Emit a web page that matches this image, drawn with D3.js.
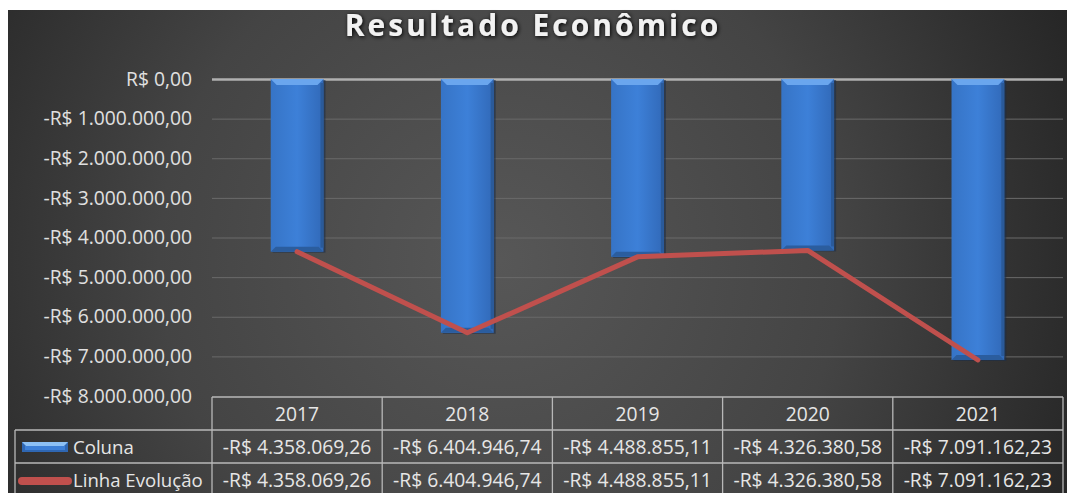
<!DOCTYPE html>
<html>
<head>
<meta charset="utf-8">
<script src="https://cdn.jsdelivr.net/npm/d3@7"></script>
<style>
  html, body { margin: 0; padding: 0; background: #fff; }
  svg { display: block; font-family: 'Open Sans', Lato, sans-serif; }
</style>
</head>
<body>
<div id="chart"></div>
<script>
// data
const years = ['2017', '2018', '2019', '2020', '2021']
const coluna = [-4358069.26, -6404946.74, -4488855.11, -4326380.58, -7091162.23]
const linhaEvolucao = [-4358069.26, -6404946.74, -4488855.11, -4326380.58, -7091162.23]
const yTicks = [0, -1000000, -2000000, -3000000, -4000000, -5000000, -6000000, -7000000, -8000000]
const seriesNames = ['Coluna', 'Linha Evolução']

const W = 1067
const H = 493
const FONT = 19.3

const locale = d3.formatLocale({
  decimal: ',',
  thousands: '.',
  grouping: [3],
  currency: ['R$ ', ''],
  minus: '-'
})
const brl = locale.format('$,.2f')

const svg = d3.select('#chart').append('svg')
  .attr('width', W)
  .attr('height', H)

const defs = svg.append('defs')

// background
const bg = defs.append('radialGradient')
  .attr('id', 'bg')
  .attr('gradientUnits', 'userSpaceOnUse')
  .attr('cx', 500).attr('cy', 260).attr('r', 620)
bg.append('stop').attr('offset', '0%').attr('stop-color', '#575757')
bg.append('stop').attr('offset', '55%').attr('stop-color', '#444')
bg.append('stop').attr('offset', '100%').attr('stop-color', '#262626')

const barGrad = defs.append('linearGradient')
  .attr('id', 'barGrad')
  .attr('x1', 0).attr('x2', 1).attr('y1', 0).attr('y2', 0)
barGrad.append('stop').attr('offset', '0%').attr('stop-color', '#3674c6')
barGrad.append('stop').attr('offset', '50%').attr('stop-color', '#3d80d8')
barGrad.append('stop').attr('offset', '100%').attr('stop-color', '#3169b8')

const shadow = defs.append('filter').attr('id', 'glow')
  .attr('x', '-10%').attr('y', '-30%').attr('width', '120%').attr('height', '160%')
shadow.append('feGaussianBlur').attr('in', 'SourceAlpha').attr('stdDeviation', 2).attr('result', 'b')
shadow.append('feOffset').attr('in', 'b').attr('dx', 1).attr('dy', 1).attr('result', 'o')
const fm = shadow.append('feMerge')
fm.append('feMergeNode').attr('in', 'o')
fm.append('feMergeNode').attr('in', 'SourceGraphic')

svg.append('rect')
  .attr('x', 8).attr('y', 10)
  .attr('width', W - 8).attr('height', H - 10)
  .attr('fill', 'url(#bg)')

// title
svg.append('text')
  .attr('x', 533).attr('y', 36)
  .attr('text-anchor', 'middle')
  .attr('fill', '#f2f2f2')
  .attr('font-size', 30)
  .attr('font-weight', 'bold')
  .attr('letter-spacing', 3)
  .attr('filter', 'url(#glow)')
  .text('Resultado Econômico')

// scales
const xs = d3.scaleBand().domain(years).range([212, 1063]).padding(0)
const ys = d3.scaleLinear().domain([-8000000, 0]).range([396, 79])
const plotW = xs.range()[1] - xs.range()[0]
const barW = xs.bandwidth() * 0.31

// grid + y axis
const yAxis = svg.append('g')
  .attr('transform', `translate(${xs.range()[0]},0)`)
  .call(d3.axisLeft(ys).tickValues(yTicks).tickFormat(brl).tickSize(-plotW).tickPadding(20))
yAxis.select('.domain').remove()
yAxis.selectAll('.tick line')
  .attr('stroke', d => d === 0 ? '#b0b0b0' : '#6a6a6a')
  .attr('stroke-width', d => d === 0 ? 2.5 : 1)
  .style('display', d => d === -8000000 ? 'none' : null)
yAxis.selectAll('.tick text')
  .attr('fill', '#e0e0e0')
  .attr('font-size', FONT)
  .attr('font-family', "'Open Sans', sans-serif")

// bars
const bars = svg.append('g').selectAll('g.bar')
  .data(years.map((y, i) => ({year: y, value: coluna[i]})))
  .join('g').classed('bar', true)
bars.append('rect')
  .attr('x', d => xs(d.year) + (xs.bandwidth() - barW) / 2 + 2)
  .attr('y', ys(0) + 1)
  .attr('width', barW)
  .attr('height', d => ys(d.value) - ys(0))
  .attr('fill', '#1c2f4a')
  .attr('opacity', 0.6)
bars.append('rect')
  .attr('x', d => xs(d.year) + (xs.bandwidth() - barW) / 2)
  .attr('y', ys(0))
  .attr('width', barW)
  .attr('height', d => ys(d.value) - ys(0))
  .attr('fill', 'url(#barGrad)')
// top bevel
bars.append('path')
  .attr('d', d => {
    const x0 = xs(d.year) + (xs.bandwidth() - barW) / 2
    const y0 = ys(0)
    return `M${x0},${y0}H${x0 + barW}L${x0 + barW - 6},${y0 + 6}H${x0 + 6}Z`
  })
  .attr('fill', '#6aa6ee')
// bottom bevel
bars.append('path')
  .attr('d', d => {
    const x0 = xs(d.year) + (xs.bandwidth() - barW) / 2
    const y1 = ys(d.value)
    return `M${x0},${y1}H${x0 + barW}L${x0 + barW - 5},${y1 - 5}H${x0 + 5}Z`
  })
  .attr('fill', '#2b5d9e')
// side shade
bars.append('rect')
  .attr('x', d => xs(d.year) + (xs.bandwidth() + barW) / 2 - 3)
  .attr('y', ys(0) + 4)
  .attr('width', 3)
  .attr('height', d => ys(d.value) - ys(0) - 8)
  .attr('fill', '#2a5a9a')

// line
const line = d3.line()
  .x((d, i) => xs(years[i]) + xs.bandwidth() / 2)
  .y(d => ys(d))
svg.append('path')
  .datum(linhaEvolucao)
  .attr('d', line)
  .attr('fill', 'none')
  .attr('stroke', '#c0504d')
  .attr('stroke-width', 5)
  .attr('stroke-linejoin', 'round')
  .attr('stroke-linecap', 'round')

// data table
const tTop = 397
const rowH = 33
const tLeft = 15
const gridC = '#b8b8b8'
const table = svg.append('g')
const x0 = xs.range()[0]
const x1 = xs.range()[1]

// horizontal lines
table.append('line').attr('x1', x0).attr('x2', x1).attr('y1', tTop).attr('y2', tTop)
table.append('line').attr('x1', tLeft).attr('x2', x1).attr('y1', tTop + rowH).attr('y2', tTop + rowH)
table.append('line').attr('x1', tLeft).attr('x2', x1).attr('y1', tTop + 2 * rowH).attr('y2', tTop + 2 * rowH)
// vertical lines
table.append('line').attr('x1', tLeft).attr('x2', tLeft).attr('y1', tTop + rowH).attr('y2', H)
table.selectAll('line.v')
  .data(years.concat(['end']))
  .join('line').classed('v', true)
  .attr('x1', (d, i) => i < years.length ? xs(d) : x1)
  .attr('x2', (d, i) => i < years.length ? xs(d) : x1)
  .attr('y1', tTop).attr('y2', H)
table.selectAll('line')
  .attr('stroke', gridC)
  .attr('stroke-width', 1.3)

const cellText = (sel) => sel
  .attr('fill', '#e6e6e6')
  .attr('font-size', FONT)
  .attr('text-anchor', 'middle')

table.selectAll('text.year')
  .data(years)
  .join('text').classed('year', true)
  .attr('x', d => xs(d) + xs.bandwidth() / 2)
  .attr('y', tTop + 24)
  .call(cellText)
  .text(d => d)

const rows = [coluna, linhaEvolucao]
rows.forEach((vals, r) => {
  table.selectAll(`text.v${r}`)
    .data(vals)
    .join('text').classed(`v${r}`, true)
    .attr('x', (d, i) => xs(years[i]) + xs.bandwidth() / 2)
    .attr('y', tTop + rowH * (r + 1) + 24)
    .call(cellText)
    .text(d => brl(d))
})

// legend keys
const kx = 22
const ky = tTop + rowH + 12
table.append('rect')
  .attr('x', kx).attr('y', ky)
  .attr('width', 46).attr('height', 10)
  .attr('fill', '#2f67b3')
table.append('path')
  .attr('d', `M${kx},${ky}H${kx + 46}L${kx + 42},${ky + 4}H${kx + 4}Z`)
  .attr('fill', '#8cc0f5')
table.append('rect')
  .attr('x', kx + 3).attr('y', ky + 4)
  .attr('width', 40).attr('height', 4)
  .attr('fill', '#3d80d8')
table.append('line')
  .attr('x1', 22).attr('x2', 68)
  .attr('y1', tTop + 2 * rowH + 18).attr('y2', tTop + 2 * rowH + 18)
  .attr('stroke', '#c0504d')
  .attr('stroke-width', 8)
  .attr('stroke-linecap', 'round')

table.selectAll('text.name')
  .data(seriesNames)
  .join('text').classed('name', true)
  .attr('x', 73)
  .attr('y', (d, i) => tTop + rowH * (i + 1) + 24)
  .attr('fill', '#e6e6e6')
  .attr('font-size', 18.6)
  .text(d => d)
</script>
</body>
</html>
